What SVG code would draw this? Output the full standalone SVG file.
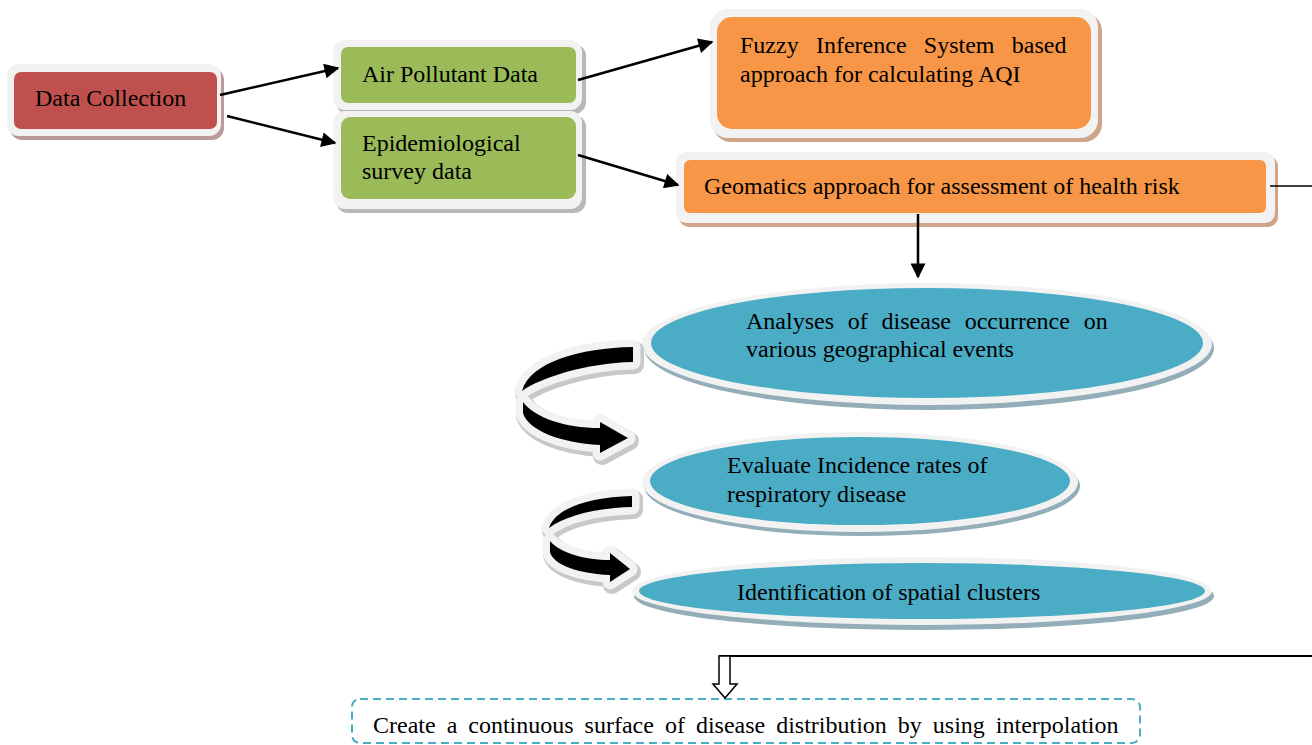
<svg xmlns="http://www.w3.org/2000/svg" width="1312" height="745" viewBox="0 0 1312 745">
<defs>
<marker id="ah" viewBox="0 0 10 10" refX="9" refY="5" markerWidth="7" markerHeight="6" markerUnits="strokeWidth" orient="auto">
<path d="M0,0 L10,5 L0,10 Z" fill="#000"/>
</marker>
</defs>
<style>
text{font-family:"Liberation Serif","Times New Roman",serif;font-size:24px;fill:#000}
.frame{fill:#F2F2F2}
.red{fill:#C0504D}
.green{fill:#9BBB59}
.orange{fill:#F79646}
.teal{fill:#4BACC6}
.shR{fill:#BC9A9A}
.shG{fill:#B8B8B8}
.shO{fill:#CFA488}
.shT{fill:#93AEB8}
.conn{stroke:#000;stroke-width:2.5;fill:none}
.halo2{fill:#C8C8C8;stroke:#C8C8C8;stroke-width:18;stroke-linejoin:round}
.halo{fill:#F2F2F2;stroke:#F2F2F2;stroke-width:15;stroke-linejoin:round}
</style>
<rect width="1312" height="745" fill="#fff"/>

<g id="data-collection">
<rect class="shR" x="10" y="68" width="214" height="72" rx="12"/>
<rect class="frame" x="7" y="64" width="214" height="72" rx="12"/>
<rect class="red" x="14" y="72" width="203" height="57" rx="7"/>
<text x="35" y="106">Data Collection</text>
</g>

<g id="air-pollutant">
<rect class="shG" x="336" y="44" width="250" height="70" rx="12"/>
<rect class="frame" x="333" y="40" width="249" height="70" rx="12"/>
<rect class="green" x="341" y="47" width="235" height="56" rx="7"/>
<text x="362" y="82">Air Pollutant Data</text>
</g>

<g id="epidemiological">
<rect class="shG" x="336" y="115" width="250" height="98" rx="12"/>
<rect class="frame" x="333" y="111" width="249" height="98" rx="12"/>
<rect class="green" x="341" y="117" width="235" height="82" rx="9"/>
<text x="362" y="151">Epidemiological</text>
<text x="362" y="179">survey data</text>
</g>

<g id="fuzzy">
<rect class="shO" x="713" y="13" width="389" height="129" rx="18"/>
<rect class="frame" x="710" y="9" width="388" height="129" rx="18"/>
<rect class="orange" x="717" y="17" width="374" height="112" rx="15"/>
<text x="740" y="53" word-spacing="11.3">Fuzzy Inference System based</text>
<text x="740" y="82">approach for calculating AQI</text>
</g>

<g id="geomatics">
<rect class="shO" x="679" y="156" width="599" height="71" rx="10"/>
<rect class="frame" x="676" y="152" width="599" height="71" rx="10"/>
<rect class="orange" x="684" y="160" width="582" height="53" rx="6"/>
<text x="704" y="194">Geomatics approach for assessment of health risk</text>
</g>

<g id="analyses">
<ellipse class="shT" cx="929" cy="348" rx="285" ry="62"/>
<ellipse class="frame" cx="927" cy="344" rx="285" ry="61"/>
<ellipse class="teal" cx="927" cy="343" rx="276" ry="55"/>
<text x="746" y="329" word-spacing="7.8">Analyses of disease occurrence on</text>
<text x="746" y="357">various geographical events</text>
</g>

<g id="evaluate">
<ellipse class="shT" cx="862" cy="486" rx="218" ry="50"/>
<ellipse class="frame" cx="860" cy="482" rx="218" ry="50"/>
<ellipse class="teal" cx="860" cy="481" rx="210" ry="44"/>
<text x="727" y="473">Evaluate Incidence rates of</text>
<text x="727" y="502">respiratory disease</text>
</g>

<g id="identification">
<ellipse class="shT" cx="924" cy="596" rx="290" ry="34"/>
<ellipse class="frame" cx="922" cy="591" rx="290" ry="34"/>
<ellipse class="teal" cx="922" cy="591" rx="283" ry="28"/>
<text x="737" y="600">Identification of spatial clusters</text>
</g>

<g id="interpolation">
<rect x="352" y="699" width="788" height="44" rx="8" fill="none" stroke="#4BACC6" stroke-width="2" stroke-dasharray="8 5"/>
<text x="373" y="733" word-spacing="5">Create a continuous surface of disease distribution by using interpolation</text>
</g>

<g id="curved-arrow-1">
<g transform="translate(2,3)">
<path class="halo2" d="M633 347 C580 348 530 362 522 391 C540 378 585 363 633 362 Z"/>
<path class="halo2" d="M523 402 C535 418 565 428 600 428 L600 422 L628 438 L600 453 L600 445 C560 443 528 430 523 413 Z"/>
</g>
<path class="halo" d="M633 347 C580 348 530 362 522 391 C540 378 585 363 633 362 Z"/>
<path class="halo" d="M523 402 C535 418 565 428 600 428 L600 422 L628 438 L600 453 L600 445 C560 443 528 430 523 413 Z"/>
<path d="M633 347 C580 348 530 362 522 391 C540 378 585 363 633 362 Z" fill="#000"/>
<path d="M523 402 C535 418 565 428 600 428 L600 422 L628 438 L600 453 L600 445 C560 443 528 430 523 413 Z" fill="#000"/>
</g>

<g id="curved-arrow-2">
<g transform="translate(2,3)">
<path class="halo2" d="M632 496 C590 497 555 508 549 528 C565 516 595 508 632 507 Z"/>
<path class="halo2" d="M550 541 C560 553 585 560 610 560 L610 553 L630 569 L610 582 L610 575 C580 574 553 565 550 552 Z"/>
</g>
<path class="halo" d="M632 496 C590 497 555 508 549 528 C565 516 595 508 632 507 Z"/>
<path class="halo" d="M550 541 C560 553 585 560 610 560 L610 553 L630 569 L610 582 L610 575 C580 574 553 565 550 552 Z"/>
<path d="M632 496 C590 497 555 508 549 528 C565 516 595 508 632 507 Z" fill="#000"/>
<path d="M550 541 C560 553 585 560 610 560 L610 553 L630 569 L610 582 L610 575 C580 574 553 565 550 552 Z" fill="#000"/>
</g>

<g id="connectors">
<line class="conn" x1="220" y1="95" x2="338" y2="68" marker-end="url(#ah)"/>
<line class="conn" x1="227" y1="116" x2="335" y2="143" marker-end="url(#ah)"/>
<line class="conn" x1="578" y1="80" x2="712" y2="42" marker-end="url(#ah)"/>
<line class="conn" x1="578" y1="155" x2="678" y2="185" marker-end="url(#ah)"/>
<line class="conn" x1="918" y1="214" x2="918" y2="277" marker-end="url(#ah)"/>
<line x1="1270" y1="186" x2="1312" y2="186" stroke="#000" stroke-width="1.5"/>
<line x1="719" y1="656" x2="1312" y2="656" stroke="#000" stroke-width="2"/>
<path d="M719 656 L730 656 L730 684 L737 684 L725 698 L713 684 L719 684 Z" fill="#fff" stroke="#000" stroke-width="1.5"/>
</g>
</svg>
